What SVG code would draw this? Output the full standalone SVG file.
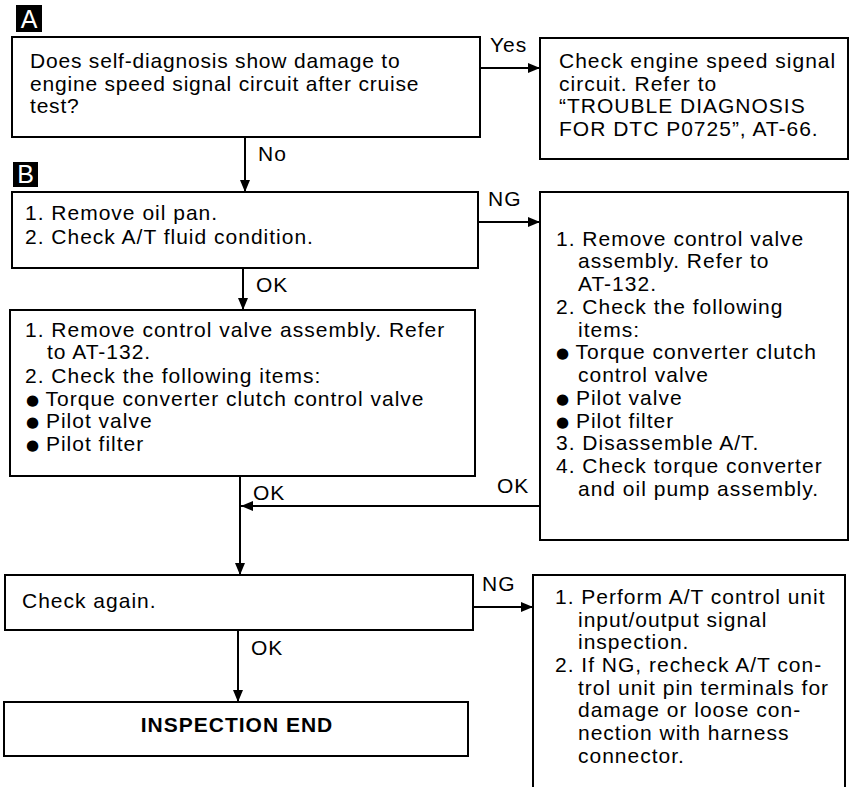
<svg xmlns="http://www.w3.org/2000/svg" width="856" height="787" viewBox="0 0 856 787">
<style>
  .box{fill:#fff;stroke:#000;stroke-width:2}
  .open{fill:none;stroke:#000;stroke-width:2}
  .t{font-family:"Liberation Sans",Arial,sans-serif;font-size:21px;letter-spacing:1px;fill:#000}
  .b{font-family:"Liberation Sans",Arial,sans-serif;font-size:21px;font-weight:bold;letter-spacing:1px;fill:#000}
  .bul{font-family:"DejaVu Sans",sans-serif;font-size:15px;letter-spacing:0}
  .tag{fill:#000}
  .tagt{font-family:"Liberation Sans",Arial,sans-serif;font-size:25px;fill:#fff}
  .c{fill:none;stroke:#000;stroke-width:2}
</style>
<defs>
  <marker id="ah" viewBox="0 0 12 10" refX="12" refY="5" markerWidth="12" markerHeight="10" markerUnits="userSpaceOnUse" orient="auto">
    <path d="M0,0 L12,5 L0,10 Z" fill="#000"/>
  </marker>
</defs>
<rect width="856" height="787" fill="#fff"/>

<g id="tagA"><rect class="tag" x="16" y="5" width="26" height="27"/><text class="tagt" x="29" y="28" text-anchor="middle">A</text></g>
<g id="tagB"><rect class="tag" x="13" y="162" width="25" height="25"/><text class="tagt" x="25.5" y="183" text-anchor="middle">B</text></g>

<g id="connectors">
  <path class="c" d="M480,68 H540" marker-end="url(#ah)"/>
  <path class="c" d="M245,137 V192" marker-end="url(#ah)"/>
  <path class="c" d="M478,222 H540" marker-end="url(#ah)"/>
  <path class="c" d="M243,268 V310" marker-end="url(#ah)"/>
  <path class="c" d="M240,476 V575" marker-end="url(#ah)"/>
  <path class="c" d="M540,506 H241" marker-end="url(#ah)"/>
  <path class="c" d="M473,607 H533" marker-end="url(#ah)"/>
  <path class="c" d="M238,630 V702" marker-end="url(#ah)"/>
  <text class="t" x="490" y="52">Yes</text>
  <text class="t" x="258" y="161">No</text>
  <text class="t" x="488" y="206">NG</text>
  <text class="t" x="256" y="292">OK</text>
  <text class="t" x="253" y="500">OK</text>
  <text class="t" x="497" y="493">OK</text>
  <text class="t" x="482" y="591">NG</text>
  <text class="t" x="251" y="655">OK</text>
</g>

<g id="n1">
  <rect class="box" x="12" y="37" width="468" height="100"/>
  <text class="t" style="letter-spacing:0.8px"><tspan x="30" y="68">Does self-diagnosis show damage to</tspan><tspan x="30" y="91">engine speed signal circuit after cruise</tspan><tspan x="30" y="113">test?</tspan></text>
</g>

<g id="n2">
  <rect class="box" x="540" y="38" width="308" height="121"/>
  <text class="t"><tspan x="559" y="68">Check engine speed signal</tspan><tspan x="559" y="91">circuit. Refer to</tspan><tspan x="559" y="113">“TROUBLE DIAGNOSIS</tspan><tspan x="559" y="136">FOR DTC P0725”, AT-66.</tspan></text>
</g>

<g id="n3">
  <rect class="box" x="12" y="192" width="466" height="76"/>
  <text class="t"><tspan x="25" y="220">1. Remove oil pan.</tspan><tspan x="25" y="244">2. Check A/T fluid condition.</tspan></text>
</g>

<g id="n4">
  <rect class="box" x="540" y="192" width="308" height="348"/>
  <text class="t">
    <tspan x="556" y="246">1. Remove control valve</tspan>
    <tspan x="578" y="268">assembly. Refer to</tspan>
    <tspan x="578" y="291">AT-132.</tspan>
    <tspan x="556" y="314">2. Check the following</tspan>
    <tspan x="578" y="337">items:</tspan>
    <tspan x="556" y="359"><tspan class="bul" baseline-shift="1.5">●</tspan> Torque converter clutch</tspan>
    <tspan x="578" y="382">control valve</tspan>
    <tspan x="556" y="405"><tspan class="bul" baseline-shift="1.5">●</tspan> Pilot valve</tspan>
    <tspan x="556" y="428"><tspan class="bul" baseline-shift="1.5">●</tspan> Pilot filter</tspan>
    <tspan x="556" y="450">3. Disassemble A/T.</tspan>
    <tspan x="556" y="473">4. Check torque converter</tspan>
    <tspan x="578" y="496">and oil pump assembly.</tspan>
  </text>
</g>

<g id="n5">
  <rect class="box" x="10" y="310" width="465" height="166"/>
  <text class="t">
    <tspan x="25" y="337">1. Remove control valve assembly. Refer</tspan>
    <tspan x="47" y="359">to AT-132.</tspan>
    <tspan x="25" y="383">2. Check the following items:</tspan>
    <tspan x="26" y="406"><tspan class="bul" baseline-shift="1.5">●</tspan> Torque converter clutch control valve</tspan>
    <tspan x="26" y="428"><tspan class="bul" baseline-shift="1.5">●</tspan> Pilot valve</tspan>
    <tspan x="26" y="451"><tspan class="bul" baseline-shift="1.5">●</tspan> Pilot filter</tspan>
  </text>
</g>

<g id="n6">
  <rect class="box" x="5" y="575" width="468" height="55"/>
  <text class="t" x="22" y="608">Check again.</text>
</g>

<g id="n7">
  <path class="open" d="M533,787 V575 H845 V787"/>
  <text class="t">
    <tspan x="555" y="604">1. Perform A/T control unit</tspan>
    <tspan x="578" y="627">input/output signal</tspan>
    <tspan x="578" y="649">inspection.</tspan>
    <tspan x="555" y="672">2. If NG, recheck A/T con-</tspan>
    <tspan x="578" y="695">trol unit pin terminals for</tspan>
    <tspan x="578" y="717">damage or loose con-</tspan>
    <tspan x="578" y="740">nection with harness</tspan>
    <tspan x="578" y="763">connector.</tspan>
  </text>
</g>

<g id="n8">
  <rect class="box" x="4" y="702" width="464" height="54"/>
  <text class="b" x="237" y="732" text-anchor="middle">INSPECTION END</text>
</g>
</svg>
